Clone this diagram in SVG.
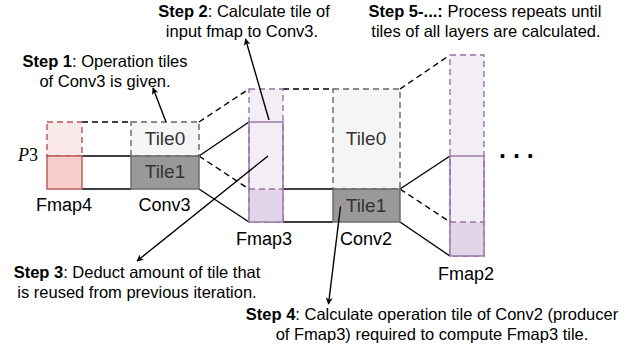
<svg xmlns="http://www.w3.org/2000/svg" width="635" height="349" viewBox="0 0 635 349">
<defs>
<style>
text{font-family:"Liberation Sans",Arial,sans-serif;fill:#000}
.step{font-size:16.5px;text-anchor:middle}
.lbl{font-size:18px;text-anchor:middle}
.tile{font-size:19px;text-anchor:middle;fill:#333}
.ln{stroke:#000;stroke-width:1.4;fill:none}
.dl{stroke:#000;stroke-width:1.4;fill:none;stroke-dasharray:6 4}
.ar{stroke:#000;stroke-width:1.4;fill:none;marker-end:url(#ah)}
.pur{stroke:#9673a6;stroke-width:1.4}
.red{stroke:#b85450;stroke-width:1.4}
.dash{stroke-dasharray:6 4}
</style>
<marker id="ah" viewBox="0 0 10 10" refX="9" refY="5" markerWidth="7" markerHeight="7" orient="auto" markerUnits="userSpaceOnUse">
<path d="M0,0 L10,5 L0,10 L3,5 Z" fill="#000"/>
</marker>
</defs>
<rect width="635" height="349" fill="#fff"/>

<g id="connectors">
<line class="dl" x1="82" y1="122" x2="131" y2="122"/>
<line class="ln" x1="82" y1="156" x2="131" y2="156"/>
<line class="ln" x1="82" y1="189" x2="131" y2="189"/>
<line class="dl" x1="199" y1="122" x2="249" y2="89"/>
<line class="ln" x1="199" y1="156" x2="249" y2="122"/>
<line class="dl" x1="199" y1="156" x2="249" y2="189"/>
<line class="ln" x1="199" y1="189" x2="249" y2="222"/>
<line class="dl" x1="283" y1="89" x2="333" y2="89"/>
<line class="ln" x1="283" y1="189" x2="333" y2="189"/>
<line class="ln" x1="283" y1="222" x2="333" y2="222"/>
<line class="dl" x1="400" y1="89" x2="450" y2="55"/>
<line class="ln" x1="400" y1="189" x2="450" y2="156"/>
<line class="dl" x1="400" y1="189" x2="450" y2="222"/>
<line class="ln" x1="400" y1="222" x2="450" y2="256"/>
</g>

<g id="fmap4">
<rect x="47" y="122" width="35" height="34" fill="#fbe8e8" class="red dash"/>
<rect x="47" y="156" width="35" height="33" fill="#f8cecc" class="red"/>
<text class="lbl" x="64" y="211">Fmap4</text>
<text x="18" y="161" style="font-family:'Liberation Serif','Times New Roman',serif;font-size:18px"><tspan font-style="italic">P</tspan>3</text>
</g>

<g id="conv3">
<rect x="131" y="122" width="68" height="34" fill="#f5f5f5" stroke="#666" stroke-width="1.4" stroke-dasharray="6 4"/>
<rect x="131" y="156" width="68" height="33" fill="#999999" stroke="#666" stroke-width="1.4"/>
<text class="tile" x="165" y="145">Tile0</text>
<text class="tile" x="165" y="178">Tile1</text>
<text class="lbl" x="164.5" y="211">Conv3</text>
</g>

<g id="fmap3">
<rect x="249" y="89" width="34" height="133" fill="#f3eef6" class="pur dash"/>
<rect x="249" y="189" width="34" height="33" fill="#e1d5e7"/>
<line x1="249" y1="189" x2="283" y2="189" class="pur dash"/>
<rect x="249" y="122" width="34" height="100" fill="none" class="pur"/>
<text class="lbl" x="264" y="245">Fmap3</text>
</g>

<g id="conv2">
<rect x="333" y="89" width="67" height="100" fill="#f5f5f5" stroke="#666" stroke-width="1.4" stroke-dasharray="6 4"/>
<rect x="333" y="189" width="67" height="33" fill="#999999" stroke="#666" stroke-width="1.4"/>
<text class="tile" x="366" y="145">Tile0</text>
<text class="tile" x="366" y="212">Tile1</text>
<text class="lbl" x="366" y="245">Conv2</text>
</g>

<g id="fmap2">
<rect x="450" y="55" width="34" height="201" fill="#f3eef6" class="pur dash"/>
<rect x="450" y="222" width="34" height="34" fill="#e1d5e7"/>
<line x1="450" y1="222" x2="484" y2="222" class="pur dash"/>
<rect x="450" y="156" width="34" height="100" fill="none" class="pur"/>
<text class="lbl" x="466" y="280">Fmap2</text>
</g>

<g id="dots">
<text x="499" y="158" style="font-size:25px;font-weight:bold">. . .</text>
</g>

<g id="arrows">
<line class="ar" x1="166" y1="122" x2="153" y2="88"/>
<line class="ar" x1="269" y1="120" x2="245.5" y2="39"/>
<line class="ar" x1="268" y1="156" x2="137" y2="261"/>
<line class="ar" x1="340.5" y1="206.5" x2="328.5" y2="304"/>
</g>

<g id="step1">
<text class="step" x="105" y="67"><tspan font-weight="bold">Step 1</tspan>: Operation tiles</text>
<text class="step" x="105" y="87">of Conv3 is given.</text>
</g>
<g id="step2">
<text class="step" x="244" y="17"><tspan font-weight="bold">Step 2</tspan>: Calculate tile of</text>
<text class="step" x="242" y="37">input fmap to Conv3.</text>
</g>
<g id="step3">
<text class="step" x="137" y="278"><tspan font-weight="bold">Step 3</tspan>: Deduct amount of tile that</text>
<text class="step" x="137" y="298">is reused from previous iteration.</text>
</g>
<g id="step4">
<text class="step" x="432" y="320"><tspan font-weight="bold">Step 4</tspan>: Calculate operation tile of Conv2 (producer</text>
<text class="step" x="432" y="340">of Fmap3) required to compute Fmap3 tile.</text>
</g>
<g id="step5">
<text class="step" x="485" y="17"><tspan font-weight="bold">Step 5-...:</tspan> Process repeats until</text>
<text class="step" x="486" y="37">tiles of all layers are calculated.</text>
</g>
</svg>
